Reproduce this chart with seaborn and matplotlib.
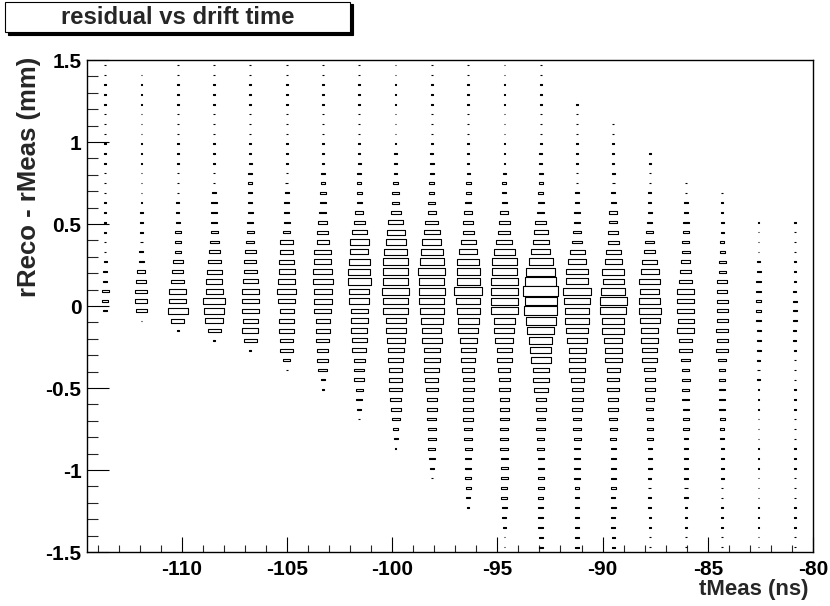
import numpy as np
import pandas as pd
import matplotlib
matplotlib.use("Agg")
import matplotlib.pyplot as plt
from matplotlib.path import Path
from matplotlib.patches import Rectangle
from matplotlib.ticker import MultipleLocator, FuncFormatter
import seaborn as sns

# ---------------- histogram binning ----------------
t_min, t_max, n_tbins = -114.5, -80.0, 20      # tMeas (ns)
r_min, r_max, n_rbins = -1.5, 1.5, 50          # rReco - rMeas (mm)

# ---------------- bin contents (per tMeas column, listed from the top row downward) ----------------
# top_row: index of the highest filled residual bin in each column (0 = lowest bin)
top_row = [49, 48, 49, 49, 49, 49, 49, 49, 49, 49, 49, 49, 49, 45, 43, 40, 37, 36, 33, 33]

col00 = [1]*16 + [2, 2, 2, 2, 3, 5, 6, 15, 11, 5]
col01 = [1]*14 + [2, 2, 2, 3, 5, 8, 20, 31, 44, 44, 37, 1]
col02 = [1]*14 + [2, 3, 5, 11, 11, 11, 31, 37, 52, 89, 89, 123, 52, 1]
col03 = [1]*12 + [2, 5, 8, 8, 11, 15, 25, 37, 52, 69, 79, 89, 136, 123, 100, 52, 1]
col04 = [1]*10 + [2, 5, 5, 5, 5, 8, 11, 15, 20, 37, 44, 52, 69, 89, 89, 89, 69, 79, 52, 1]
col05 = [1]*12 + [3, 5, 8, 8, 11, 15, 52, 52, 69, 79, 89, 111, 89, 60, 69, 69, 52, 52, 15, 1]
col06 = [1]*10 + [2, 5, 5, 8, 11, 15, 25, 37, 44, 89, 89, 111, 123, 100, 100, 89, 60, 60,
                  52, 37, 37, 25, 5, 1]
col07 = [1]*10 + [2, 5, 5, 8, 8, 20, 37, 69, 111, 100, 136, 149, 163, 123, 123, 89, 89, 79,
                  69, 60, 37, 31, 31, 15, 11, 5, 1]
col08 = [1]*9 + [2, 3, 3, 8, 15, 15, 31, 69, 100, 123, 163, 178, 193, 193, 209, 193, 193, 123,
                 123, 100, 79, 69, 52, 52, 52, 37, 31, 20, 8, 5, 1]
col09 = [1]*9 + [3, 5, 5, 8, 8, 15, 20, 52, 79, 111, 149, 178, 225, 193, 209, 193, 178, 149,
                 111, 123, 79, 79, 69, 52, 44, 31, 31, 25, 20, 20, 15, 11, 5, 1]
col10 = [1]*10 + [2, 3, 8, 8, 11, 20, 31, 37, 69, 100, 149, 163, 163, 242, 178, 163, 136, 123,
                  89, 69, 60, 44, 37, 37, 31, 31, 31, 20, 20, 15, 11, 11, 11, 8, 5, 1]
col11 = [1]*11 + [3, 5, 5, 8, 20, 37, 44, 79, 136, 193, 193, 209, 209, 209, 209, 136, 123, 100,
                  69, 69, 44, 37, 37, 25, 25, 25, 20, 20, 20, 15, 15, 15, 11, 11, 8, 5, 3, 1, 1]
col12 = [1]*9 + [3, 3, 5, 5, 8, 11, 15, 37, 60, 79, 111, 178, 260, 297, 378, 316, 336, 278, 225,
                 163, 136, 123, 79, 79, 60, 31, 31, 20, 25, 15, 15, 11, 11, 11, 11, 8, 8, 8, 8,
                 5, 5]
col13 = [1]*9 + [3, 5, 8, 11, 20, 31, 69, 100, 136, 149, 225, 193, 163, 163, 136, 123, 89, 79,
                 79, 52, 37, 37, 31, 20, 20, 15, 11, 8, 8, 8, 5, 5, 5, 5, 5, 5, 3]
col14 = [1]*5 + [3, 3, 5, 8, 20, 20, 31, 37, 69, 89, 149, 136, 178, 225, 209, 149, 149, 100, 89,
                 89, 52, 44, 44, 31, 31, 20, 15, 11, 8, 8, 8, 8, 8, 5, 8, 5, 5, 3, 3]
col15 = [1]*4 + [3, 3, 5, 8, 15, 25, 37, 69, 100, 136, 111, 136, 149, 123, 89, 89, 69, 69, 37,
                 31, 31, 20, 15, 11, 11, 11, 5, 5, 5, 3, 3, 3, 3, 1, 1, 1, 1]
col16 = [1, 1, 3, 5, 8, 11, 15, 20, 25, 37, 52, 89, 89, 89, 79, 89, 52, 52, 25, 15,
         20, 15, 15, 11, 11, 8, 5, 5, 5, 3, 3, 3, 3, 1, 1, 1, 1, 1]
col17 = [1, 1, 1, 3, 3, 5, 8, 15, 15, 31, 31, 37, 37, 37, 44, 37, 44, 20, 11, 11,
         11, 11, 11, 8, 5, 5, 3, 3, 3, 3, 1, 1, 1, 1, 1, 1, 1]
col18 = [1, 1, 1, 1, 3, 5, 8, 8, 8, 8, 8, 5, 5, 5, 3, 3, 3] + [1]*17
col19 = [1]*6 + [2, 3, 5, 5, 5, 3, 3] + [1]*21

columns = [col00, col01, col02, col03, col04, col05, col06, col07, col08, col09,
           col10, col11, col12, col13, col14, col15, col16, col17, col18, col19]

title_text = "residual vs drift time"
x_title = "tMeas (ns)"
y_title = "rReco - rMeas (mm)"

# ---------------- build long table ----------------
t_edges = np.linspace(t_min, t_max, n_tbins + 1)
r_edges = np.linspace(r_min, r_max, n_rbins + 1)
t_centers = 0.5 * (t_edges[:-1] + t_edges[1:])
r_centers = 0.5 * (r_edges[:-1] + r_edges[1:])

rows = []
for k, (top, vals) in enumerate(zip(top_row, columns)):
    for i, c in enumerate(vals):
        j = top - i
        if c > 0 and j >= 0:
            rows.append((t_centers[k], r_centers[j], c))
df = pd.DataFrame(rows, columns=["tMeas", "resid", "count"])
cmax = df["count"].max()

# ---------------- figure ----------------
W, H, DPI = 830, 606, 100
sns.set_style("ticks")
plt.rcParams["font.family"] = ["Liberation Sans", "DejaVu Sans"]
plt.rcParams["font.weight"] = "bold"
plt.rcParams["axes.unicode_minus"] = False

fig = plt.figure(figsize=(W / DPI, H / DPI), dpi=DPI, facecolor="white")
ax_l, ax_r, ax_t, ax_b = 87, 813, 60, 552
ax = fig.add_axes([ax_l / W, 1 - ax_b / H, (ax_r - ax_l) / W, (ax_b - ax_t) / H])
ax.set_facecolor("white")

# box marker with the aspect ratio of one histogram cell on screen
cell_w_px = (ax_r - ax_l) / n_tbins
cell_h_px = (ax_b - ax_t) / n_rbins
a = cell_h_px / cell_w_px
box = Path([(-1, -a), (1, -a), (1, a), (-1, a), (-1, -a)], closed=True)
lw = 0.8
cell_w_pt = cell_w_px * 72 / DPI - lw
smax = cell_w_pt ** 2

sns.scatterplot(data=df, x="tMeas", y="resid", size="count",
                sizes=(0, smax), size_norm=(0, cmax),
                marker=box, color="white", edgecolor="black", linewidth=lw,
                legend=False, ax=ax, zorder=3)

ax.set_xlim(t_min, t_max)
ax.set_ylim(r_min, r_max)

ax.xaxis.set_major_locator(MultipleLocator(5))
ax.xaxis.set_minor_locator(MultipleLocator(1))
ax.yaxis.set_major_locator(MultipleLocator(0.5))
ax.yaxis.set_minor_locator(MultipleLocator(0.1))

def fmt(v, pos):
    if abs(v) < 1e-9:
        return "0"
    return f"{v:g}"

ax.xaxis.set_major_formatter(FuncFormatter(fmt))
ax.yaxis.set_major_formatter(FuncFormatter(fmt))

ax.tick_params(axis="x", which="major", direction="in", length=10.5, width=0.8,
               top=False, bottom=True, labelsize=15, pad=6.0, colors="black")
ax.tick_params(axis="x", which="minor", direction="in", length=5.2, width=0.8,
               top=False, bottom=True)
ax.tick_params(axis="y", which="major", direction="in", length=15.7, width=0.8,
               right=False, left=True, labelsize=15, pad=4, colors="black")
ax.tick_params(axis="y", which="minor", direction="in", length=7.9, width=0.8,
               right=False, left=True)
for lab in ax.get_xticklabels() + ax.get_yticklabels():
    lab.set_fontweight("bold")

for sp in ax.spines.values():
    sp.set_visible(True)
    sp.set_linewidth(1.0)
    sp.set_color("black")

ax.set_xlabel(x_title, fontsize=16, fontweight="bold", loc="right")
ax.xaxis.set_label_coords((808 - ax_l) / (ax_r - ax_l), -(579 - ax_b) / (ax_b - ax_t))
ax.set_ylabel(y_title, fontsize=18.5, fontweight="bold", loc="top")
ax.yaxis.set_label_coords(-(ax_l - 41) / (ax_r - ax_l), (ax_b - 57) / (ax_b - ax_t))

# ---------------- title pave with shadow ----------------
bx0, by0, bx1, by1 = 5, 2, 350, 32
sh = 2.5
fig.patches.append(Rectangle(((bx0 + sh) / W, 1 - (by1 + sh) / H), (bx1 - bx0) / W, (by1 - by0) / H,
                             transform=fig.transFigure, facecolor="black", edgecolor="black",
                             linewidth=0.8, zorder=1))
fig.patches.append(Rectangle((bx0 / W, 1 - by1 / H), (bx1 - bx0) / W, (by1 - by0) / H,
                             transform=fig.transFigure, facecolor="white", edgecolor="black",
                             linewidth=0.8, zorder=2))
fig.text((bx0 + bx1) / 2 / W, 1 - (by0 + by1) / 2 / H, title_text, ha="center", va="center",
         fontsize=17.2, fontweight="bold", zorder=3)

fig.savefig("out.png", dpi=DPI, facecolor="white")
